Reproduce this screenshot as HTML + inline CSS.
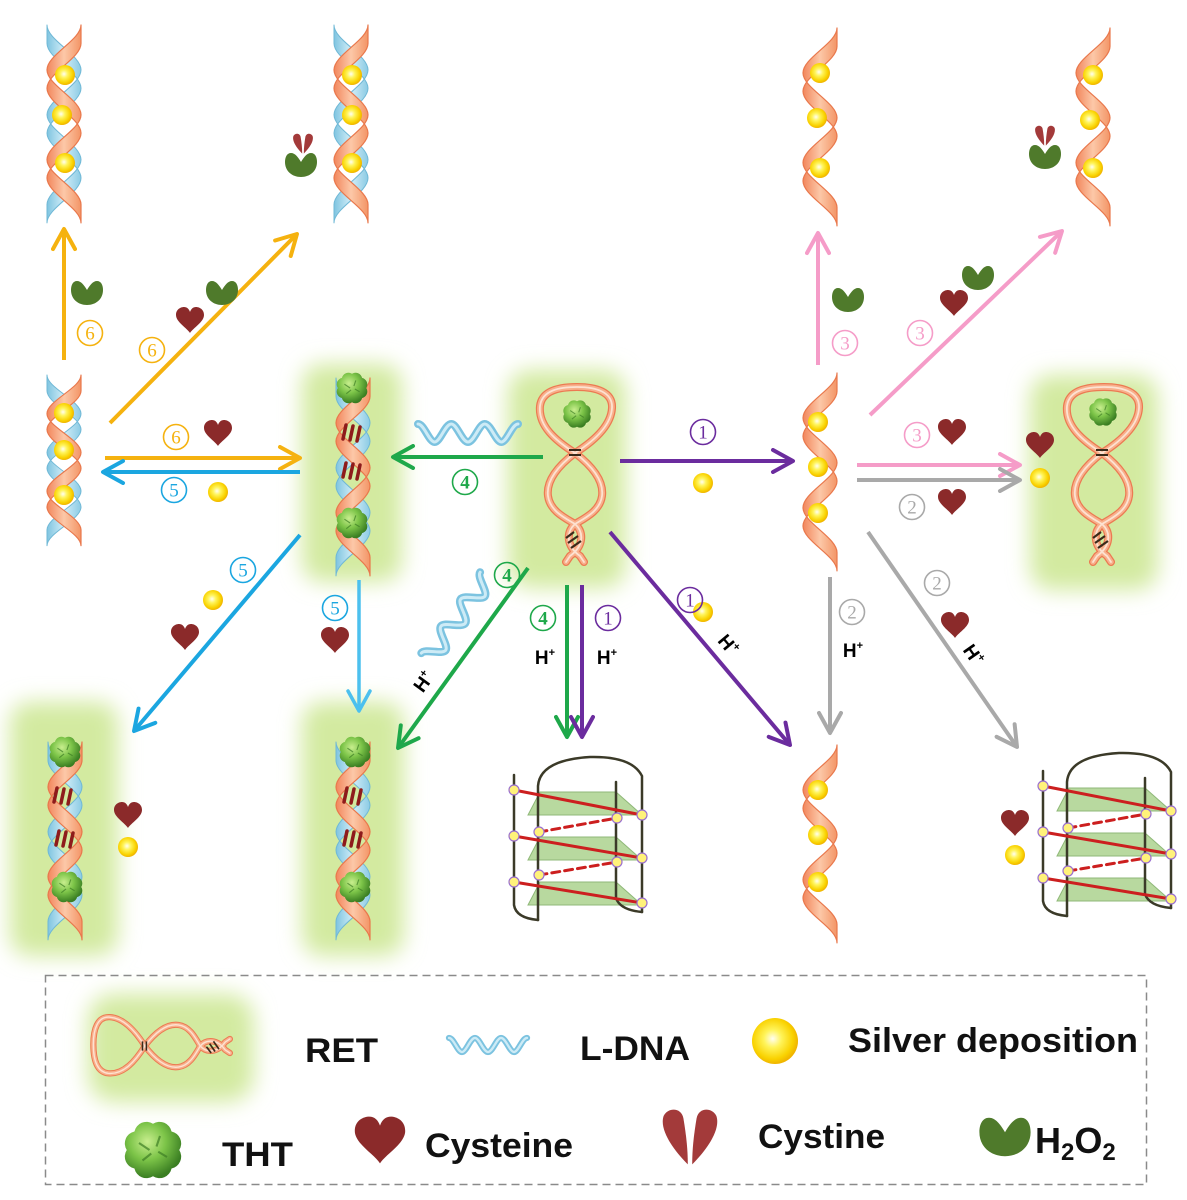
<!DOCTYPE html>
<html>
<head>
<meta charset="utf-8">
<style>
html,body{margin:0;padding:0;background:#fff;}
svg{display:block}
</style>
</head>
<body>
<svg width="1187" height="1200" viewBox="0 0 1187 1200" xmlns="http://www.w3.org/2000/svg" xmlns:xlink="http://www.w3.org/1999/xlink" font-family="'Liberation Sans', sans-serif">
<defs>
  <radialGradient id="gBall" cx="45%" cy="45%" r="55%">
    <stop offset="0" stop-color="#fffef2"/>
    <stop offset="0.35" stop-color="#fff45a"/>
    <stop offset="0.8" stop-color="#f9d200"/>
    <stop offset="1" stop-color="#f0b400"/>
  </radialGradient>
  <radialGradient id="gTht" cx="40%" cy="35%" r="65%">
    <stop offset="0" stop-color="#c8ee8e"/>
    <stop offset="0.5" stop-color="#7cc448"/>
    <stop offset="1" stop-color="#3a7e22"/>
  </radialGradient>
  <linearGradient id="gRib" x1="0" y1="0" x2="1" y2="0">
    <stop offset="0" stop-color="#f2865c"/>
    <stop offset="0.5" stop-color="#fcc8a8"/>
    <stop offset="1" stop-color="#f39566"/>
  </linearGradient>
  <linearGradient id="gRibB" x1="0" y1="0" x2="1" y2="0">
    <stop offset="0" stop-color="#8ccbe4"/>
    <stop offset="0.5" stop-color="#d2eef8"/>
    <stop offset="1" stop-color="#7fc4e0"/>
  </linearGradient>
  <filter id="blur" x="-30%" y="-30%" width="160%" height="160%">
    <feGaussianBlur stdDeviation="11"/>
  </filter>

  <marker id="mY" viewBox="0 0 26 26" refX="23" refY="13" markerWidth="26" markerHeight="26" markerUnits="userSpaceOnUse" orient="auto"><path d="M3,2 L23,13 L3,24" fill="none" stroke="#f5b20f" stroke-width="4" stroke-linecap="round" stroke-linejoin="round"/></marker>
  <marker id="mB" viewBox="0 0 26 26" refX="23" refY="13" markerWidth="26" markerHeight="26" markerUnits="userSpaceOnUse" orient="auto"><path d="M3,2 L23,13 L3,24" fill="none" stroke="#1ba6e0" stroke-width="4" stroke-linecap="round" stroke-linejoin="round"/></marker>
  <marker id="mLB" viewBox="0 0 26 26" refX="23" refY="13" markerWidth="26" markerHeight="26" markerUnits="userSpaceOnUse" orient="auto"><path d="M3,2 L23,13 L3,24" fill="none" stroke="#4cc0ee" stroke-width="3.5" stroke-linecap="round" stroke-linejoin="round"/></marker>
  <marker id="mG" viewBox="0 0 26 26" refX="23" refY="13" markerWidth="26" markerHeight="26" markerUnits="userSpaceOnUse" orient="auto"><path d="M3,2 L23,13 L3,24" fill="none" stroke="#1ea84a" stroke-width="4" stroke-linecap="round" stroke-linejoin="round"/></marker>
  <marker id="mP" viewBox="0 0 26 26" refX="23" refY="13" markerWidth="26" markerHeight="26" markerUnits="userSpaceOnUse" orient="auto"><path d="M3,2 L23,13 L3,24" fill="none" stroke="#6b2c9e" stroke-width="4" stroke-linecap="round" stroke-linejoin="round"/></marker>
  <marker id="mK" viewBox="0 0 26 26" refX="23" refY="13" markerWidth="26" markerHeight="26" markerUnits="userSpaceOnUse" orient="auto"><path d="M3,2 L23,13 L3,24" fill="none" stroke="#f59cc8" stroke-width="4" stroke-linecap="round" stroke-linejoin="round"/></marker>
  <marker id="mR" viewBox="0 0 26 26" refX="23" refY="13" markerWidth="26" markerHeight="26" markerUnits="userSpaceOnUse" orient="auto"><path d="M3,2 L23,13 L3,24" fill="none" stroke="#a9a9a9" stroke-width="4" stroke-linecap="round" stroke-linejoin="round"/></marker>

  <!-- twisted ribbon strand -->
  <path id="ribP" d="M17,0 C17,14.7 -17,29.3 -17,44 C-17,58.7 17,73.3 17,88 C17,102.7 -17,117.3 -17,132 C-17,146.7 17,161.3 17,176 L17,194 C17,179.3 -17,164.7 -17,150 C-17,135.3 17,120.7 17,106 C17,91.3 -17,76.7 -17,62 C-17,47.3 17,32.7 17,18 Z"/>
  <g id="hxO">
    <use xlink:href="#ribP" fill="url(#gRib)" stroke="#e9784c" stroke-width="1.2" stroke-linejoin="round"/>
  </g>
  <g id="hxB">
    <g transform="scale(-1,1)">
      <use xlink:href="#ribP" fill="url(#gRibB)" stroke="#6fb8d6" stroke-width="1" stroke-linejoin="round"/>
    </g>
  </g>

  <g id="bars" stroke="#8e1b1b" stroke-width="3.5" stroke-linecap="round">
    <line x1="-9" y1="7" x2="-6" y2="-7"/>
    <line x1="-2" y1="8" x2="1" y2="-6"/>
    <line x1="5" y1="9" x2="8" y2="-5"/>
  </g>

  <circle id="ball" r="10" fill="url(#gBall)"/>
  <path id="heart" fill="#8b2a2a" d="M0,13 C-3,8 -14,2 -14,-5 C-14,-11 -9,-13 -6,-13 C-3,-13 -1,-11 0,-8 C1,-11 3,-13 6,-13 C9,-13 14,-11 14,-5 C14,2 3,8 0,13 Z"/>
  <path id="h2o2" fill="#4f7a2b" d="M0,-3 C-3,-8 -6,-12 -10,-12 C-14,-12 -16,-8 -16,-3 C-16,6 -9,12 0,12 C9,12 16,6 16,-3 C16,-8 14,-12 10,-12 C6,-12 3,-8 0,-3 Z"/>
  <g id="cyst" fill="#a33a3a">
    <path d="M-1,12 C-8,5 -14,-4 -12,-10 C-10,-14 -4,-14 -3,-9 C-2,-3 -1,4 -1,12 Z"/>
    <path d="M1,12 C8,5 14,-4 12,-10 C10,-14 4,-14 3,-9 C2,-3 1,4 1,12 Z"/>
  </g>
  <g id="tht">
    <path fill="url(#gTht)" d="M15,0 A7,7 0 0 1 10.6,10.6 A7,7 0 0 1 0,15 A7,7 0 0 1 -10.6,10.6 A7,7 0 0 1 -15,0 A7,7 0 0 1 -10.6,-10.6 A7,7 0 0 1 0,-15 A7,7 0 0 1 10.6,-10.6 A7,7 0 0 1 15,0 Z"/>
    <g stroke="#3d7d25" stroke-width="1.2" fill="none" opacity="0.7">
      <path d="M-8,-4 L-2,0 M-6,6 L-1,2 M4,-8 L2,-2 M8,4 L3,1"/>
    </g>
  </g>
  <path id="waveP" fill="none" stroke-linecap="round" d="M-50,-9 C-44,-9 -39,9 -33.3,9 C-28,9 -22.7,-9 -16.7,-9 C-11,-9 -6,9 0,9 C6,9 11,-9 16.7,-9 C22.7,-9 28,9 33.3,9 C39,9 44,-9 50,-9"/>
  <g id="wave">
    <use xlink:href="#waveP" stroke="#7cc3e0" stroke-width="8"/>
    <use xlink:href="#waveP" stroke="#cdebf6" stroke-width="3"/>
  </g>

  <path id="retP" fill="none" stroke-linecap="round" d="M575,453 C556,441 538,426 540,406 C542,390 560,387 577,387 C596,387 613,392 612,408 C611,426 594,441 575,453 M575,453 C558,466 546,481 548,496 C550,511 565,518 575,524 C585,518 600,511 602,496 C604,481 592,466 575,453 M575,524 C566,532 566,546 580,556 L584,562 M575,524 C584,532 584,546 570,556 L566,562"/>
  <g id="ret">
    <use xlink:href="#retP" stroke="#ec7a52" stroke-width="8"/>
    <use xlink:href="#retP" stroke="#f8b08c" stroke-width="5.5"/>
    <use xlink:href="#retP" stroke="#fde2d2" stroke-width="1.8"/>
    <path d="M569,450 L581,450 M569,455 L581,455" stroke="#3a2a1a" stroke-width="2"/>
    <path d="M566,538 L574,532 M568,543 L578,536 M571,548 L581,541" stroke="#3a2a1a" stroke-width="2.2"/>
  </g>

  <g id="gq">
    <polygon points="540,792 616,792 642,815 528,815" fill="#b8d99f" stroke="#8fb878" stroke-width="1"/>
    <polygon points="540,837 616,837 642,860 528,860" fill="#b8d99f" stroke="#8fb878" stroke-width="1"/>
    <polygon points="540,882 616,882 642,905 528,905" fill="#b8d99f" stroke="#8fb878" stroke-width="1"/>
    <g fill="none" stroke="#3b3a28" stroke-width="2.5" stroke-linecap="round">
      <path d="M514,775 L514,905 Q516,918 538,920"/>
      <path d="M538,920 L538,786 Q540,760 590,757 Q632,756 642,776 L642,912"/>
      <path d="M616,782 L616,898 Q620,910 642,912"/>
    </g>
    <g stroke="#cc1f1f" stroke-width="3" stroke-linecap="round">
      <line x1="514" y1="790" x2="642" y2="815"/>
      <line x1="514" y1="836" x2="642" y2="858"/>
      <line x1="514" y1="882" x2="642" y2="903"/>
      <line x1="539" y1="832" x2="617" y2="818" stroke-dasharray="8 5"/>
      <line x1="539" y1="875" x2="617" y2="862" stroke-dasharray="8 5"/>
    </g>
    <g fill="#fff27a" stroke="#9a6fd0" stroke-width="1.2">
      <circle cx="514" cy="790" r="5"/><circle cx="642" cy="815" r="5"/>
      <circle cx="617" cy="818" r="5"/><circle cx="539" cy="832" r="5"/>
      <circle cx="514" cy="836" r="5"/><circle cx="642" cy="858" r="5"/>
      <circle cx="617" cy="862" r="5"/><circle cx="539" cy="875" r="5"/>
      <circle cx="514" cy="882" r="5"/><circle cx="642" cy="903" r="5"/>
    </g>
  </g>
</defs>

<rect width="1187" height="1200" fill="#fff"/>

<!-- glows -->
<g filter="url(#blur)" fill="#d3eaa0">
  <rect x="302" y="364" width="100" height="218" rx="20"/>
  <rect x="508" y="370" width="118" height="218" rx="22"/>
  <rect x="1030" y="375" width="128" height="215" rx="22"/>
  <rect x="10" y="702" width="108" height="254" rx="20"/>
  <rect x="302" y="702" width="102" height="254" rx="20"/>
  <rect x="88" y="994" width="166" height="108" rx="26"/>
</g>

<!-- helices -->
<g transform="translate(64,25) scale(1,1.02)"><use xlink:href="#hxB"/><use xlink:href="#hxO"/></g>
<g transform="translate(351,25) scale(1,1.02)"><use xlink:href="#hxB"/><use xlink:href="#hxO"/></g>
<g transform="translate(64,375) scale(1,0.88)"><use xlink:href="#hxB"/><use xlink:href="#hxO"/></g>
<g transform="translate(353,378) scale(1,1.02)"><use xlink:href="#hxB"/><use xlink:href="#hxO"/></g>
<g transform="translate(820,373) scale(1,1.02)"><use xlink:href="#hxO"/></g>
<g transform="translate(820,28) scale(1,1.02)"><use xlink:href="#hxO"/></g>
<g transform="translate(1093,28) scale(1,1.02)"><use xlink:href="#hxO"/></g>
<g transform="translate(65,742) scale(1,1.02)"><use xlink:href="#hxB"/><use xlink:href="#hxO"/></g>
<g transform="translate(353,742) scale(1,1.02)"><use xlink:href="#hxB"/><use xlink:href="#hxO"/></g>
<g transform="translate(820,745) scale(1,1.02)"><use xlink:href="#hxO"/></g>

<!-- helix balls -->
<use xlink:href="#ball" x="65" y="75"/><use xlink:href="#ball" x="62" y="115"/><use xlink:href="#ball" x="65" y="163"/>
<use xlink:href="#ball" x="352" y="75"/><use xlink:href="#ball" x="352" y="115"/><use xlink:href="#ball" x="352" y="163"/>
<use xlink:href="#ball" x="64" y="413"/><use xlink:href="#ball" x="64" y="450"/><use xlink:href="#ball" x="64" y="495"/>
<use xlink:href="#ball" x="818" y="422"/><use xlink:href="#ball" x="818" y="467"/><use xlink:href="#ball" x="818" y="513"/>
<use xlink:href="#ball" x="820" y="73"/><use xlink:href="#ball" x="817" y="118"/><use xlink:href="#ball" x="820" y="168"/>
<use xlink:href="#ball" x="1093" y="75"/><use xlink:href="#ball" x="1090" y="120"/><use xlink:href="#ball" x="1093" y="168"/>
<use xlink:href="#ball" x="818" y="790"/><use xlink:href="#ball" x="818" y="835"/><use xlink:href="#ball" x="818" y="882"/>

<!-- bars & THT on helices -->
<use xlink:href="#bars" x="352" y="432"/><use xlink:href="#bars" x="352" y="470"/>
<use xlink:href="#bars" x="63" y="795"/><use xlink:href="#bars" x="65" y="838"/>
<use xlink:href="#bars" x="353" y="795"/><use xlink:href="#bars" x="353" y="838"/>
<g transform="translate(352,388) scale(0.95)"><use xlink:href="#tht"/></g>
<g transform="translate(352,523) scale(0.95)"><use xlink:href="#tht"/></g>
<g transform="translate(65,752) scale(0.95)"><use xlink:href="#tht"/></g>
<g transform="translate(67,887) scale(0.95)"><use xlink:href="#tht"/></g>
<g transform="translate(355,752) scale(0.95)"><use xlink:href="#tht"/></g>
<g transform="translate(355,887) scale(0.95)"><use xlink:href="#tht"/></g>

<!-- RET structures -->
<use xlink:href="#ret"/>
<g transform="translate(577,414) scale(0.85)"><use xlink:href="#tht"/></g>
<g transform="translate(527,0)"><use xlink:href="#ret"/></g>
<g transform="translate(1103,412) scale(0.85)"><use xlink:href="#tht"/></g>

<!-- G-quadruplexes -->
<use xlink:href="#gq"/>
<g transform="translate(529,-4)"><use xlink:href="#gq"/></g>

<!-- arrows -->
<g fill="none" stroke-width="4">
  <line x1="64" y1="360" x2="64" y2="229" stroke="#f5b20f" marker-end="url(#mY)"/>
  <line x1="110" y1="423" x2="297" y2="234" stroke="#f5b20f" marker-end="url(#mY)"/>
  <line x1="105" y1="458" x2="300" y2="458" stroke="#f5b20f" marker-end="url(#mY)"/>
  <line x1="300" y1="472" x2="103" y2="472" stroke="#1ba6e0" marker-end="url(#mB)"/>
  <line x1="300" y1="535" x2="134" y2="731" stroke="#1ba6e0" marker-end="url(#mB)"/>
  <line x1="359" y1="580" x2="359" y2="711" stroke="#4cc0ee" stroke-width="3.5" marker-end="url(#mLB)"/>
  <line x1="543" y1="457" x2="393" y2="457" stroke="#1ea84a" marker-end="url(#mG)"/>
  <line x1="528" y1="568" x2="398" y2="748" stroke="#1ea84a" marker-end="url(#mG)"/>
  <line x1="567" y1="585" x2="567" y2="737" stroke="#1ea84a" marker-end="url(#mG)"/>
  <line x1="620" y1="461" x2="793" y2="461" stroke="#6b2c9e" marker-end="url(#mP)"/>
  <line x1="610" y1="532" x2="790" y2="745" stroke="#6b2c9e" marker-end="url(#mP)"/>
  <line x1="582" y1="585" x2="582" y2="737" stroke="#6b2c9e" marker-end="url(#mP)"/>
  <line x1="818" y1="365" x2="818" y2="233" stroke="#f59cc8" marker-end="url(#mK)"/>
  <line x1="870" y1="415" x2="1062" y2="231" stroke="#f59cc8" marker-end="url(#mK)"/>
  <line x1="857" y1="465" x2="1020" y2="465" stroke="#f59cc8" marker-end="url(#mK)"/>
  <line x1="857" y1="480" x2="1020" y2="480" stroke="#a9a9a9" marker-end="url(#mR)"/>
  <line x1="830" y1="577" x2="830" y2="733" stroke="#a9a9a9" marker-end="url(#mR)"/>
  <line x1="868" y1="532" x2="1017" y2="747" stroke="#a9a9a9" marker-end="url(#mR)"/>
</g>

<!-- L-DNA waves -->
<g transform="translate(468,433)"><use xlink:href="#wave"/></g>
<g transform="translate(458,618) rotate(-54)"><use xlink:href="#wave"/></g>

<!-- cysteine hearts -->
<use xlink:href="#heart" x="190" y="320"/>
<use xlink:href="#heart" x="218" y="433"/>
<use xlink:href="#heart" x="185" y="637"/>
<use xlink:href="#heart" x="335" y="640"/>
<use xlink:href="#heart" x="128" y="815"/>
<use xlink:href="#heart" x="954" y="303"/>
<use xlink:href="#heart" x="952" y="432"/>
<use xlink:href="#heart" x="952" y="502"/>
<use xlink:href="#heart" x="955" y="625"/>
<use xlink:href="#heart" x="1040" y="445"/>
<use xlink:href="#heart" x="1015" y="823"/>

<!-- H2O2 -->
<use xlink:href="#h2o2" x="87" y="293"/>
<use xlink:href="#h2o2" x="222" y="293"/>
<use xlink:href="#h2o2" x="301" y="165"/>
<use xlink:href="#h2o2" x="848" y="300"/>
<use xlink:href="#h2o2" x="978" y="278"/>
<use xlink:href="#h2o2" x="1045" y="157"/>

<!-- cystine small -->
<g transform="translate(303,144) scale(0.8)"><use xlink:href="#cyst"/></g>
<g transform="translate(1045,136) scale(0.8)"><use xlink:href="#cyst"/></g>

<!-- extra silver balls -->
<use xlink:href="#ball" x="218" y="492"/>
<use xlink:href="#ball" x="213" y="600"/>
<use xlink:href="#ball" x="128" y="847"/>
<use xlink:href="#ball" x="703" y="483"/>
<use xlink:href="#ball" x="703" y="612"/>
<use xlink:href="#ball" x="1040" y="478"/>
<use xlink:href="#ball" x="1015" y="855"/>

<!-- circled numbers -->
<g fill="none" stroke-width="1.6">
  <g stroke="#f5b20f"><circle cx="90" cy="333" r="12.5"/><circle cx="152" cy="350" r="12.5"/><circle cx="176" cy="437" r="12.5"/></g>
  <g stroke="#1ba6e0"><circle cx="174" cy="490" r="12.5"/><circle cx="243" cy="570" r="12.5"/><circle cx="335" cy="608" r="12.5"/></g>
  <g stroke="#1ea84a"><circle cx="465" cy="482" r="12.5"/><circle cx="507" cy="575" r="12.5"/><circle cx="543" cy="618" r="12.5"/></g>
  <g stroke="#6b2c9e"><circle cx="703" cy="432" r="12.5"/><circle cx="608" cy="618" r="12.5"/><circle cx="690" cy="600" r="12.5"/></g>
  <g stroke="#f59cc8"><circle cx="845" cy="343" r="12.5"/><circle cx="920" cy="333" r="12.5"/><circle cx="917" cy="435" r="12.5"/></g>
  <g stroke="#a9a9a9"><circle cx="912" cy="507" r="12.5"/><circle cx="852" cy="612" r="12.5"/><circle cx="937" cy="583" r="12.5"/></g>
</g>
<g font-size="19" text-anchor="middle" font-family="'Liberation Serif', serif">
  <g fill="#f5b20f"><text x="90" y="339.5">6</text><text x="152" y="356.5">6</text><text x="176" y="443.5">6</text></g>
  <g fill="#1ba6e0"><text x="174" y="496.5">5</text><text x="243" y="576.5">5</text><text x="335" y="614.5">5</text></g>
  <g fill="#1ea84a" font-weight="bold"><text x="465" y="488.5">4</text><text x="507" y="581.5">4</text><text x="543" y="624.5">4</text></g>
  <g fill="#6b2c9e"><text x="703" y="438.5">1</text><text x="608" y="624.5">1</text><text x="690" y="606.5">1</text></g>
  <g fill="#f59cc8"><text x="845" y="349.5">3</text><text x="920" y="339.5">3</text><text x="917" y="441.5">3</text></g>
  <g fill="#a9a9a9"><text x="912" y="513.5">2</text><text x="852" y="618.5">2</text><text x="937" y="589.5">2</text></g>
</g>

<!-- H+ labels -->
<g font-weight="bold" font-size="19" fill="#000" text-anchor="middle">
  <text x="545" y="664">H<tspan font-size="11" dy="-8">+</tspan></text>
  <text x="607" y="664">H<tspan font-size="11" dy="-8">+</tspan></text>
  <text x="853" y="657">H<tspan font-size="11" dy="-8">+</tspan></text>
  <text transform="translate(424,682) rotate(-54)" x="0" y="6">H<tspan font-size="11" dy="-8">+</tspan></text>
  <text transform="translate(728,645) rotate(50)" x="0" y="6">H<tspan font-size="11" dy="-8">+</tspan></text>
  <text transform="translate(973,655) rotate(55)" x="0" y="6">H<tspan font-size="11" dy="-8">+</tspan></text>
</g>

<!-- legend -->
<rect x="45.5" y="975.5" width="1101" height="209" fill="none" stroke="#8a8a8a" stroke-width="1.5" stroke-dasharray="8 5"/>
<g transform="translate(162,1046) rotate(-90) scale(0.78) translate(-575,-475)"><use xlink:href="#ret"/></g>
<g transform="translate(488,1045) scale(0.78)"><use xlink:href="#wave"/></g>
<g transform="translate(775,1041) scale(2.3)"><use xlink:href="#ball"/></g>
<g transform="translate(153,1150) scale(1.75)"><use xlink:href="#tht"/></g>
<g transform="translate(380,1140) scale(1.8)"><use xlink:href="#heart"/></g>
<g transform="translate(690,1138) scale(2.2)"><use xlink:href="#cyst"/></g>
<g transform="translate(1005,1137) scale(1.6)"><use xlink:href="#h2o2"/></g>

<g font-weight="bold" font-size="34" fill="#111">
  <text x="305" y="1062" textLength="73" lengthAdjust="spacingAndGlyphs">RET</text>
  <text x="580" y="1060" textLength="110" lengthAdjust="spacingAndGlyphs">L-DNA</text>
  <text x="848" y="1052" textLength="290" lengthAdjust="spacingAndGlyphs">Silver deposition</text>
  <text x="222" y="1166" textLength="71" lengthAdjust="spacingAndGlyphs">THT</text>
  <text x="425" y="1157" textLength="148" lengthAdjust="spacingAndGlyphs">Cysteine</text>
  <text x="758" y="1148" textLength="127" lengthAdjust="spacingAndGlyphs">Cystine</text>
  <text x="1035" y="1153" font-size="36">H<tspan font-size="24" dy="7">2</tspan><tspan dy="-7">O</tspan><tspan font-size="24" dy="7">2</tspan></text>
</g>
</svg>
</body>
</html>
